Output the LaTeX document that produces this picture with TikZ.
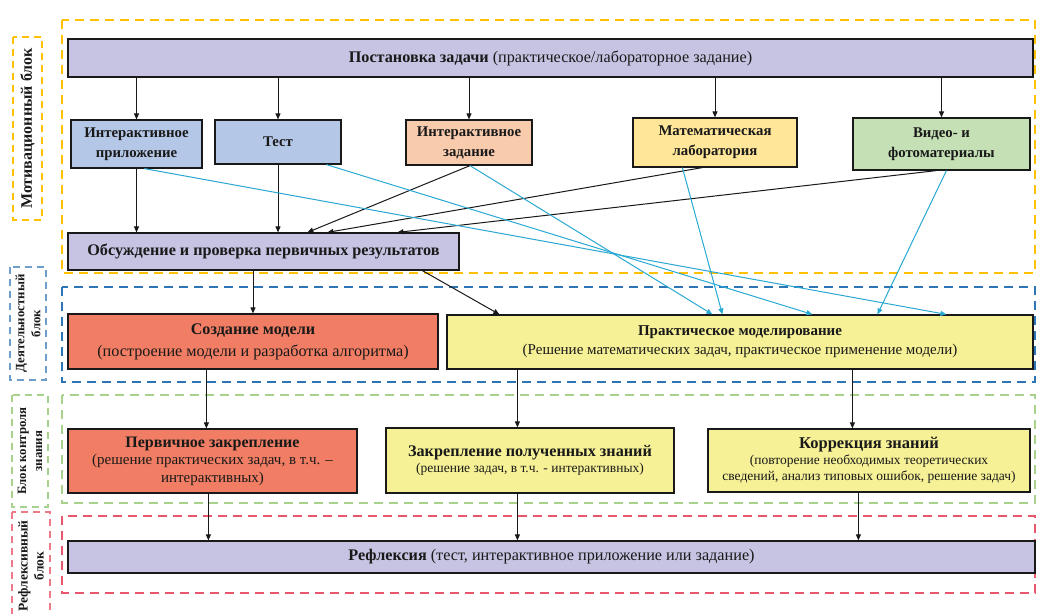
\documentclass[tikz,border=0pt]{standalone}
\usepackage{fontspec}
\setmainfont{Liberation Serif}
\usetikzlibrary{arrows.meta}
\definecolor{lavbox}{RGB}{198,196,226}
\definecolor{bluebox}{RGB}{180,199,231}
\definecolor{peachbox}{RGB}{248,203,173}
\definecolor{sandbox}{RGB}{255,230,153}
\definecolor{greenbox}{RGB}{197,224,180}
\definecolor{coralbox}{RGB}{241,126,100}
\definecolor{lemonbox}{RGB}{246,241,150}
\definecolor{cyanline}{RGB}{40,168,210}
\definecolor{yframe}{RGB}{255,192,0}
\definecolor{bframe}{RGB}{46,117,182}
\definecolor{gframe}{RGB}{169,209,142}
\definecolor{rframe}{RGB}{232,87,107}
\definecolor{inktext}{RGB}{25,25,25}
\tikzset{
  box/.style={draw=inktext, line width=1.2pt, inner sep=1pt, align=center, text=inktext},
  arr/.style={draw=inktext, line width=1pt, -{Triangle[length=6pt,width=5pt]}},
  carr/.style={draw=cyanline, line width=1pt, -{Triangle[length=6pt,width=5pt]}},
  frame/.style={line width=2pt, dash pattern=on 9pt off 6pt},
  blocklab/.style={rotate=90, line width=1.6pt, dash pattern=on 7pt off 5pt, align=center, text=inktext, inner sep=0pt},
}
\newcommand{\bigtxt}{\rmfamily\fontsize{16.2}{22}\selectfont}
\newcommand{\midtxt}{\rmfamily\fontsize{14.8}{20}\selectfont\bfseries}
\newcommand{\labtxt}{\rmfamily\fontsize{12.8}{16}\selectfont\bfseries}
\begin{document}
\begin{tikzpicture}[x=1pt,y=-1pt]
\useasboundingbox (0,0) rectangle (1038,613);
% block frames
\draw[frame, yframe] (62,20) rectangle (1035,273);
\draw[frame, bframe] (62,287) rectangle (1035,382);
\draw[frame, gframe] (62,395) rectangle (1035,503);
\draw[frame, rframe] (62,516) rectangle (1035,593);
\node[blocklab, draw=yframe, minimum width=183, minimum height=29, font=\rmfamily\fontsize{16}{18}\selectfont\bfseries] (ylab) at (27.5,128.5) {Мотивационный блок};
\node[blocklab, draw=bframe!70, minimum width=113, minimum height=36, font=\labtxt] (blab) at (28,323.5) {Деятельностный\\ блок};
\node[blocklab, draw=gframe, minimum width=112, minimum height=36, font=\labtxt] (glab) at (30,451) {Блок контроля\\ знания};
\node[blocklab, draw=rframe!80, minimum width=108, minimum height=38, font=\rmfamily\fontsize{13.5}{16}\selectfont\bfseries] (rlab) at (31,566) {Рефлексивный\\ блок};
% boxes
\node[box, fill=lavbox, minimum width=965, minimum height=38, font=\bigtxt] (post) at (550.5,58) {\textbf{Постановка задачи} (практическое/лабораторное задание)};
\node[box, fill=bluebox, minimum width=131, minimum height=48, font=\midtxt] (iapp) at (136.5,144) {Интерактивное\\ приложение};
\node[box, fill=bluebox, minimum width=126, minimum height=44, font=\midtxt] (test) at (278,142) {Тест};
\node[box, fill=peachbox, minimum width=126, minimum height=45, font=\midtxt] (itask) at (469,142.5) {Интерактивное\\ задание};
\node[box, fill=sandbox, minimum width=164, minimum height=49, font=\midtxt] (mlab) at (715,142.5) {Математическая\\ лаборатория};
\node[box, fill=greenbox, minimum width=177, minimum height=52, font=\midtxt] (video) at (941.5,144) {Видео- и\\ фотоматериалы};
\node[box, fill=lavbox, minimum width=391, minimum height=37, font=\bigtxt\bfseries] (disc) at (263.5,251.5) {Обсуждение и проверка первичных результатов};
\node[box, fill=coralbox, minimum width=370, minimum height=55, font=\bigtxt] (create) at (253,341.5) {\textbf{Создание модели}\\ (построение модели и разработка алгоритма)};
\node[box, fill=lemonbox, minimum width=586, minimum height=54, font=\rmfamily\fontsize{15}{19}\selectfont] (prac) at (740,342) {\textbf{Практическое моделирование}\\ (Решение математических задач, практическое применение модели)};
\node[box, fill=coralbox, minimum width=289, minimum height=64, font=\rmfamily\fontsize{15}{17.5}\selectfont] (first) at (212.5,461) {{\fontsize{16}{17.5}\selectfont\bfseries Первичное закрепление}\\ (решение практических задач, в т.ч. --\\ интерактивных)};
\node[box, fill=lemonbox, minimum width=288, minimum height=65, font=\rmfamily\fontsize{13.5}{16}\selectfont] (zakr) at (530,460.5) {{\fontsize{16.2}{16}\selectfont\bfseries Закрепление полученных знаний}\\ (решение задач, в т.ч. - интерактивных)};
\node[box, fill=lemonbox, minimum width=322, minimum height=63, font=\rmfamily\fontsize{13.5}{16}\selectfont] (corr) at (869,460.5) {{\fontsize{16.5}{16}\selectfont\bfseries Коррекция знаний}\\ (повторение необходимых теоретических\\ сведений, анализ типовых ошибок, решение задач)};
\node[box, fill=lavbox, minimum width=967, minimum height=32, font=\bigtxt] (refl) at (551.5,557) {\textbf{Рефлексия} (тест, интерактивное приложение или задание)};
% from the task to the five tools
\foreach \n in {iapp,test,itask,mlab,video}
  \path[arr] (post.south -| \n.north) -- (\n.north);
% tools to the discussion
\path[arr] (iapp.south) -- (iapp.south |- disc.north);
\path[arr] (test.south) -- (test.south |- disc.north);
\path[arr] ([xshift=1pt]itask.south) -- ([xshift=240pt]disc.north west);
\path[arr] ([xshift=70pt]mlab.south west) -- ([xshift=260pt]disc.north west);
\path[arr] ([xshift=84pt]video.south west) -- ([xshift=330pt]disc.north west);
% tools to the practical modelling
\path[carr] ([xshift=74pt]iapp.south west) -- ([xshift=500pt]prac.north west);
\path[carr] ([xshift=112pt]test.south west) -- ([xshift=366pt]prac.north west);
\path[carr] ([xshift=1pt]itask.south) -- ([xshift=266pt]prac.north west);
\path[carr] ([xshift=50pt]mlab.south west) -- ([xshift=276pt]prac.north west);
\path[carr] ([xshift=94pt]video.south west) -- ([xshift=431pt]prac.north west);
% activity block
\path[arr] (create.north |- disc.south) -- (create.north);
\path[arr] ([xshift=355pt]disc.south west) -- ([xshift=53pt]prac.north west);
% control block
\coordinate (cr) at ([xshift=139pt]create.south west);
\coordinate (pz) at ([xshift=71pt]prac.south west);
\coordinate (pc) at ([xshift=406pt]prac.south west);
\path[arr] (cr) -- (cr |- first.north);
\path[arr] (pz) -- (pz |- zakr.north);
\path[arr] (pc) -- (pc |- corr.north);
% reflection
\coordinate (fr) at ([xshift=141pt]first.south west);
\coordinate (zr) at ([xshift=132pt]zakr.south west);
\coordinate (kr) at ([xshift=151pt]corr.south west);
\path[arr] (fr) -- (fr |- refl.north);
\path[arr] (zr) -- (zr |- refl.north);
\path[arr] (kr) -- (kr |- refl.north);
\end{tikzpicture}
\end{document}
